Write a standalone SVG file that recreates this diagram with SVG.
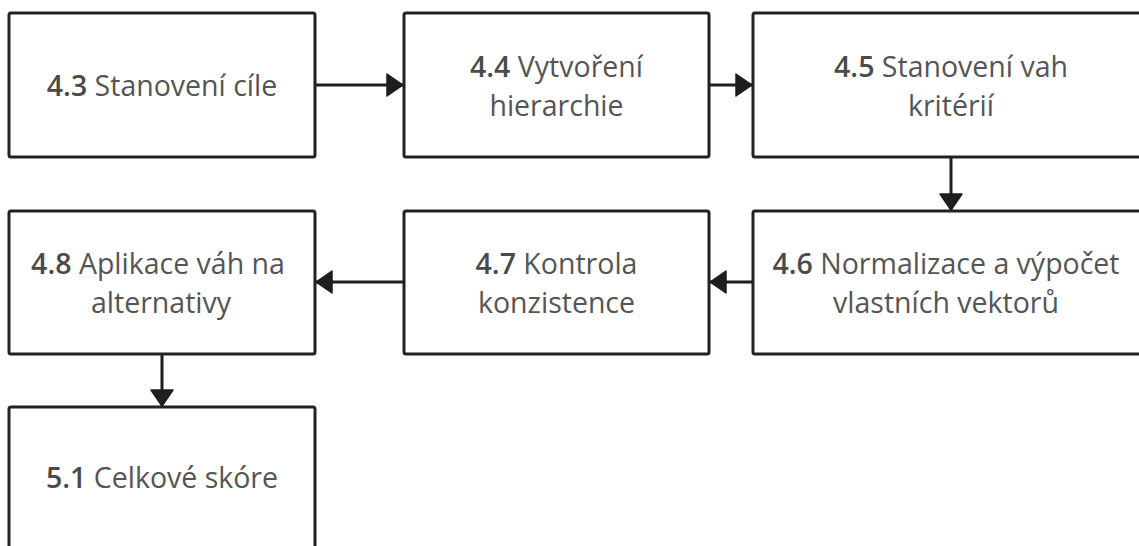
<svg xmlns="http://www.w3.org/2000/svg" width="1139" height="546" viewBox="0 0 1139 546">
<style>
.box{fill:#ffffff;stroke:#222222;stroke-width:3;}
.lbl{font-family:"Open Sans","Noto Sans",sans-serif;font-size:28.5px;fill:#555555;text-anchor:middle;}
.num{font-weight:600;fill:#4a4a4a;}
.edge{fill:none;stroke:#1e1e1e;stroke-width:3;}
</style>
<defs>
<marker id="arr" markerUnits="userSpaceOnUse" markerWidth="20" markerHeight="26" refX="17" refY="12" orient="auto" viewBox="0 0 20 26">
<path d="M1,1 L17,12 L1,23 Z" fill="#1e1e1e" stroke="#1e1e1e" stroke-width="1.5" stroke-linejoin="round"/>
</marker>
</defs>
<rect width="1139" height="546" fill="#ffffff"/>
<g id="connectors">
<path class="edge" d="M315,85 L403,85" marker-end="url(#arr)"/>
<path class="edge" d="M709,85 L752,85" marker-end="url(#arr)"/>
<path class="edge" d="M951,157 L951,210" marker-end="url(#arr)"/>
<path class="edge" d="M753,282 L710,282" marker-end="url(#arr)"/>
<path class="edge" d="M404,282 L316,282" marker-end="url(#arr)"/>
<path class="edge" d="M162,354 L162,406" marker-end="url(#arr)"/>
</g>
<g id="n43">
<rect class="box" x="9" y="13" width="306" height="144" rx="2"/>
<text class="lbl" x="162" y="96"><tspan class="num">4.3</tspan> Stanovení cíle</text>
</g>
<g id="n44">
<rect class="box" x="404" y="13" width="305" height="144" rx="2"/>
<text class="lbl" x="556.5" y="77"><tspan class="num">4.4</tspan> Vytvoření</text>
<text class="lbl" x="556.5" y="116">hierarchie</text>
</g>
<g id="n45">
<rect class="box" x="753" y="13" width="396" height="144" rx="2"/>
<text class="lbl" x="951" y="77"><tspan class="num">4.5</tspan> Stanovení vah</text>
<text class="lbl" x="951" y="116">kritérií</text>
</g>
<g id="n46">
<rect class="box" x="753" y="211" width="396" height="143" rx="2"/>
<text class="lbl" x="946" y="274"><tspan class="num">4.6</tspan> Normalizace a výpočet</text>
<text class="lbl" x="946" y="313">vlastních vektorů</text>
</g>
<g id="n47">
<rect class="box" x="404" y="211" width="305" height="143" rx="2"/>
<text class="lbl" x="556.5" y="274"><tspan class="num">4.7</tspan> Kontrola</text>
<text class="lbl" x="556.5" y="313">konzistence</text>
</g>
<g id="n48">
<rect class="box" x="9" y="211" width="306" height="143" rx="2"/>
<text class="lbl" x="158" y="274"><tspan class="num">4.8</tspan> Aplikace váh na</text>
<text class="lbl" x="161" y="313">alternativy</text>
</g>
<g id="n51">
<rect class="box" x="9" y="407" width="306" height="144" rx="2"/>
<text class="lbl" x="162" y="488"><tspan class="num">5.1</tspan> Celkové skóre</text>
</g>
</svg>
